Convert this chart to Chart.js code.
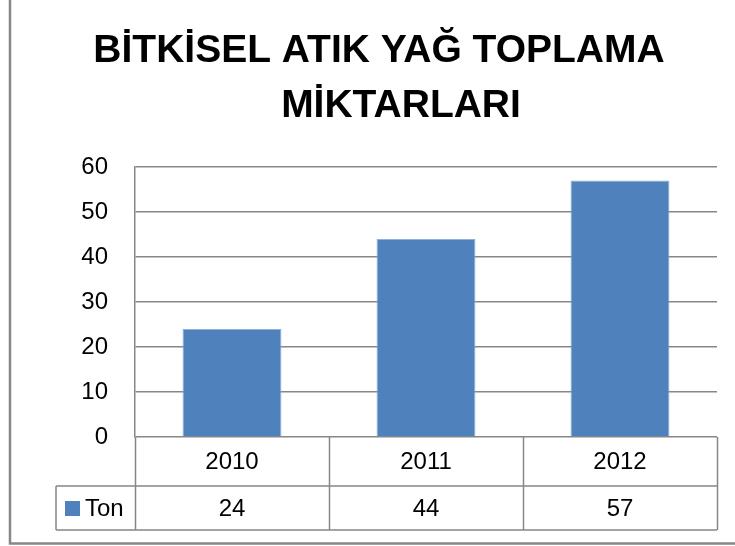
<!DOCTYPE html>
<html lang="tr">
<head>
<meta charset="utf-8">
<title>Bitkisel Atık Yağ Toplama Miktarları</title>
<script src="https://cdn.jsdelivr.net/npm/chart.js@4/dist/chart.umd.min.js"></script>
<style>
  html, body { margin: 0; padding: 0; background: #fff; }
  #wrap { width: 735px; height: 546px; }
</style>
</head>
<body>
<div id="wrap"><canvas id="atikChart" width="735" height="546"></canvas></div>
<script>
// ── Data ───────────────────────────────────────────
const titleLines = ['BİTKİSEL ATIK YAĞ TOPLAMA', 'MİKTARLARI'];
const years      = ['2010', '2011', '2012'];
const tonValues  = [24, 44, 57];
const seriesName = 'Ton';
const yTickMin   = 0;
const yTickMax   = 60;
const yTickStep  = 10;

// ── Styles ─────────────────────────────────────────
const FONT      = '"Liberation Sans", Arial, sans-serif';
const BAR_BLUE  = '#4F81BD';
const LINE_GREY = '#878787';

// title, outer frame and the data table under the x axis
const tablePlugin = {
  id: 'excelTable',
  afterDraw(chart) {
    const ctx = chart.ctx;
    const x = chart.scales.x;
    const area = chart.chartArea;
    const n = years.length;
    const colW = (x.right - x.left) / n;
    const row1Bottom = area.bottom + 49;
    const row2Bottom = row1Bottom + 44;
    const legendLeft = 56;

    ctx.save();

    // chart frame (left and bottom edges visible)
    ctx.strokeStyle = LINE_GREY;
    ctx.lineWidth = 2.5;
    ctx.beginPath();
    ctx.moveTo(10, 0);
    ctx.lineTo(10, 543.5);
    ctx.lineTo(735, 543.5);
    ctx.stroke();

    // title
    ctx.fillStyle = '#000';
    ctx.font = 'bold 39px ' + FONT;
    ctx.textAlign = 'center';
    ctx.textBaseline = 'alphabetic';
    ctx.fillText(titleLines[0], 379, 62);
    ctx.fillText(titleLines[1], 401, 117);

    // table grid
    ctx.strokeStyle = LINE_GREY;
    ctx.lineWidth = 1.5;
    ctx.beginPath();
    for (let i = 0; i <= n; i++) {
      const cx = Math.round(x.left + i * colW) + 0.5;
      ctx.moveTo(cx, area.bottom);
      ctx.lineTo(cx, row2Bottom);
    }
    ctx.moveTo(legendLeft, row1Bottom);
    ctx.lineTo(x.right, row1Bottom);
    ctx.moveTo(legendLeft, row2Bottom);
    ctx.lineTo(x.right, row2Bottom);
    ctx.moveTo(legendLeft, row1Bottom);
    ctx.lineTo(legendLeft, row2Bottom);
    ctx.stroke();

    // year row and value row
    ctx.font = '24px ' + FONT;
    ctx.fillStyle = '#000';
    ctx.textBaseline = 'middle';
    ctx.textAlign = 'center';
    years.forEach((yr, i) => {
      const cx = x.getPixelForValue(i);
      ctx.fillText(yr, cx, (area.bottom + row1Bottom) / 2 + 1);
      ctx.fillText(String(tonValues[i]), cx, (row1Bottom + row2Bottom) / 2 + 1);
    });

    // legend key inside the value row
    const midY = (row1Bottom + row2Bottom) / 2;
    ctx.fillStyle = BAR_BLUE;
    ctx.fillRect(65, midY - 7, 15, 15);
    ctx.fillStyle = '#000';
    ctx.textAlign = 'left';
    ctx.fillText(seriesName, 85, midY + 1);

    ctx.restore();
  }
};

new Chart(document.getElementById('atikChart'), {
  type: 'bar',
  data: {
    labels: years,
    datasets: [{
      label: seriesName,
      data: tonValues,
      backgroundColor: BAR_BLUE,
      borderColor: '#8FB0DA',
      borderWidth: 1,
      categoryPercentage: 1,
      barPercentage: 0.51
    }]
  },
  options: {
    responsive: false,
    animation: false,
    layout: { padding: { left: 0, right: 18, top: 167, bottom: 109 } },
    plugins: {
      legend: { display: false },
      title: { display: false },
      tooltip: { enabled: false }
    },
    scales: {
      x: {
        display: false,
        offset: true
      },
      y: {
        min: yTickMin,
        max: yTickMax,
        afterFit(scale) { scale.width = 135; },
        ticks: {
          stepSize: yTickStep,
          padding: 27,
          color: '#000',
          font: { family: FONT, size: 24 }
        },
        grid: {
          color: LINE_GREY,
          lineWidth: 1.5,
          drawTicks: false
        },
        border: { display: true, color: LINE_GREY, width: 1.5 }
      }
    }
  },
  plugins: [tablePlugin]
});
</script>
</body>
</html>
